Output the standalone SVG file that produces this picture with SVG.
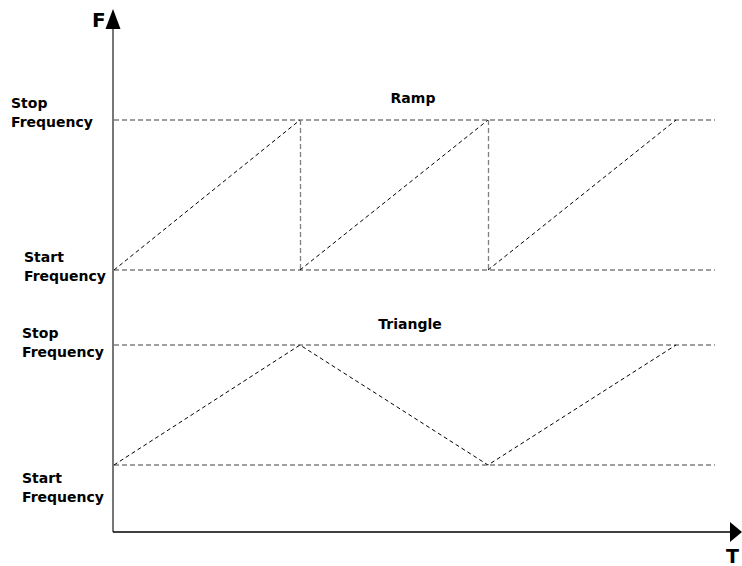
<svg xmlns="http://www.w3.org/2000/svg" width="742" height="566" viewBox="0 0 742 566">
<style>
.lbl{font-family:"DejaVu Sans","Verdana",sans-serif;font-weight:bold;font-size:14px;fill:#000}
.axl{font-family:"DejaVu Sans","Verdana",sans-serif;font-weight:bold;font-size:20px;fill:#000}
.lvl{stroke:#808080;stroke-width:1.3;stroke-dasharray:5 3;fill:none}
.sig{stroke:#000;stroke-width:1;stroke-dasharray:4 3;fill:none}
</style>
<rect width="742" height="566" fill="#fff"/>
<g id="axes">
<line x1="113" y1="26" x2="113" y2="532" stroke="#555" stroke-width="1.6"/>
<polygon points="113,9 105.5,29 120.5,29" fill="#000"/>
<line x1="113" y1="532" x2="732" y2="532" stroke="#000" stroke-width="1.5"/>
<polygon points="742,532 730,522 730,542" fill="#000"/>
<text class="axl" x="92" y="27">F</text>
<text class="axl" x="726" y="563" style="font-size:19px">T</text>
</g>
<g id="levels">
<line class="lvl" x1="114" y1="120" x2="715" y2="120"/>
<line class="lvl" x1="114" y1="270" x2="715" y2="270"/>
<line class="lvl" x1="114" y1="345" x2="715" y2="345"/>
<line class="lvl" x1="114" y1="465" x2="715" y2="465"/>
</g>
<g id="ramp">
<path class="sig" d="M114,270 L300,120"/>
<line class="lvl" x1="300.5" y1="120" x2="300.5" y2="270"/>
<path class="sig" d="M300,270 L488,120"/>
<line class="lvl" x1="488.5" y1="120" x2="488.5" y2="270"/>
<path class="sig" d="M488,270 L676,120"/>
<text class="lbl" x="413" y="103" text-anchor="middle">Ramp</text>
</g>
<g id="triangle">
<path class="sig" d="M114,465 L300,345 L488,465 L676,345"/>
<text class="lbl" x="410" y="329" text-anchor="middle">Triangle</text>
</g>
<g id="labels">
<text class="lbl" x="11" y="108">Stop</text>
<text class="lbl" x="11" y="127">Frequency</text>
<text class="lbl" x="24" y="262">Start</text>
<text class="lbl" x="24" y="281">Frequency</text>
<text class="lbl" x="22" y="338">Stop</text>
<text class="lbl" x="22" y="357">Frequency</text>
<text class="lbl" x="22" y="483">Start</text>
<text class="lbl" x="22" y="502">Frequency</text>
</g>
</svg>
